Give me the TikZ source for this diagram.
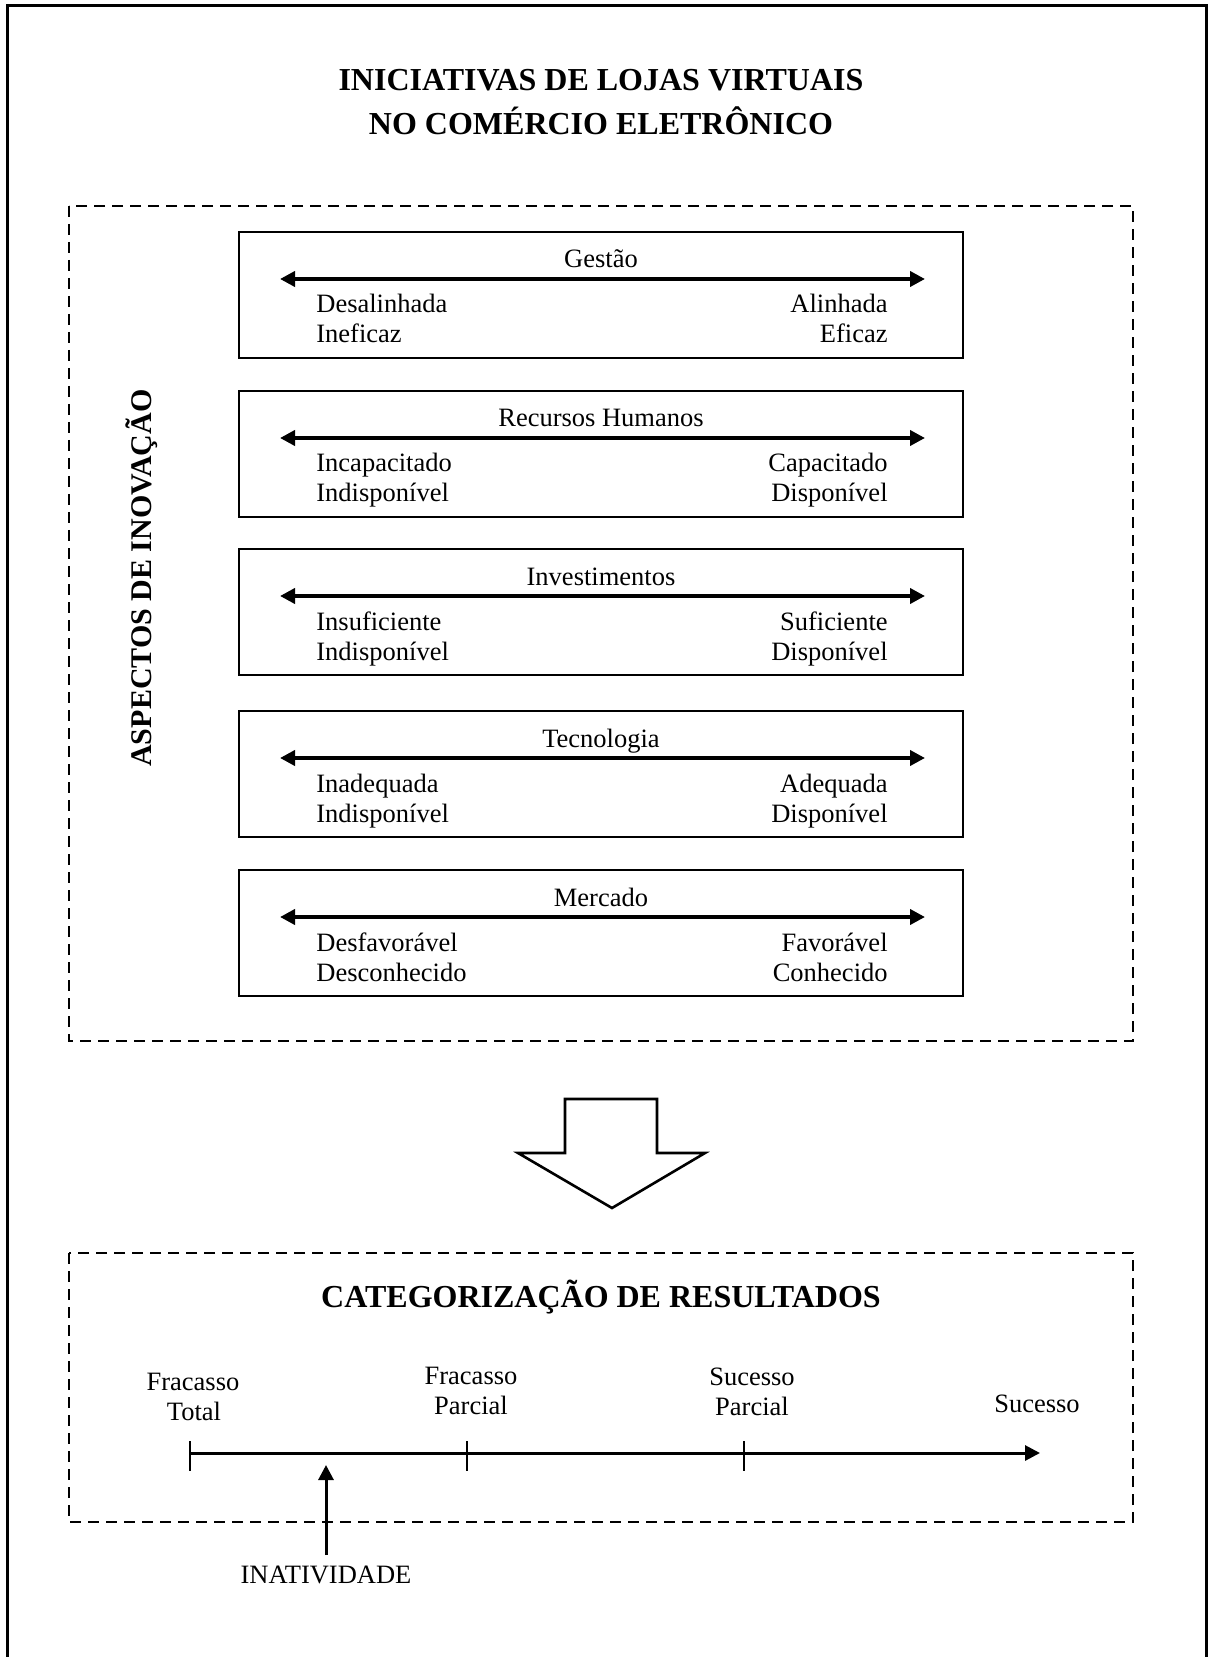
\documentclass[tikz,border=0pt]{standalone}
\usepackage{fontspec}
\setmainfont{Liberation Serif}
\usetikzlibrary{arrows.meta}
\begin{document}
\begin{tikzpicture}[x=0.5pt,y=-0.5pt,
  frame/.style={draw,line width=1.5pt},
  panel/.style={draw,line width=0.8pt},
  dashbox/.style={draw,line width=1.3pt,dash pattern=on 5.5pt off 3.5pt},
  dblarrow/.style={line width=2pt,<->,>={Triangle[length=7.5pt,width=7.5pt]}},
  onearrow/.style={line width=1.5pt,->,>={Triangle[length=7.5pt,width=7.5pt]}},
  tickmark/.style={line width=1pt},
  bigarrow/.style={draw,line width=1.3pt,line join=miter},
  lbl/.style={font=\fontsize{13.25}{15}\selectfont,inner sep=0pt},
  ttl/.style={font=\fontsize{16}{19}\selectfont\bfseries,inner sep=0pt},
  sidettl/.style={font=\fontsize{15}{18}\selectfont\bfseries,inner sep=0pt},
]
\useasboundingbox (0,0) rectangle (1208,1657);
% outer frame (open at the bottom)
\draw[frame] (7,1670) -- (7,5.5) -- (1206.5,5.5) -- (1206.5,1670);

% title
\node[ttl,anchor=base] (title1) at (601,91) {INICIATIVAS DE LOJAS VIRTUAIS};
\node[ttl,anchor=base] (title2) at (601,135) {NO COMÉRCIO ELETRÔNICO};

% aspects box
\draw[dashbox] (69,206) rectangle (1133,1041);
\node[sidettl,rotate=90,anchor=base] (aspectos) at (151,578) {ASPECTOS DE INOVAÇÃO};

\foreach \t/\n/\ti/\la/\lb/\ra/\rb in {
  232/ges/Gestão/Desalinhada/Ineficaz/Alinhada/Eficaz,
  391/rh/Recursos Humanos/Incapacitado/Indisponível/Capacitado/Disponível,
  549/inv/Investimentos/Insuficiente/Indisponível/Suficiente/Disponível,
  711/tec/Tecnologia/Inadequada/Indisponível/Adequada/Disponível,
  870/mer/Mercado/Desfavorável/Desconhecido/Favorável/Conhecido}
{
  \draw[panel] (239,\t) rectangle (963,\t+126);
  \node[lbl,anchor=base] (\n-title) at (601,\t+36) {\ti};
  \coordinate (\n-left) at (280,\t+47);
  \coordinate (\n-right) at (925,\t+47);
  \draw[dblarrow] (\n-left) -- (\n-right);
  \node[lbl,anchor=base west] (\n-l1) at (316,\t+81) {\la};
  \node[lbl,anchor=base west] (\n-l2) at (316,\t+111) {\lb};
  \node[lbl,anchor=base east] (\n-r1) at (888,\t+81) {\ra};
  \node[lbl,anchor=base east] (\n-r2) at (888,\t+111) {\rb};
}

% big hollow arrow
\draw[bigarrow] (565,1099) -- (657,1099) -- (657,1153) -- (705,1153) -- (612,1208)
  -- (518,1153) -- (565,1153) -- cycle;

% results box
\draw[dashbox] (69,1253) rectangle (1133,1522);
\node[ttl,anchor=base] (cattitle) at (601,1307) {CATEGORIZAÇÃO DE RESULTADOS};

\coordinate (p0) at (190,1453);
\coordinate (p1) at (467,1453);
\coordinate (p2) at (744,1453);
\coordinate (pend) at (1040,1453);
\draw[onearrow] (p0) -- (pend);
\foreach \p in {p0,p1,p2}{
  \draw[tickmark] (\p) ++(0,-12) -- ++(0,30);
}

\node[lbl,anchor=base] (ft1) at (193,1390) {Fracasso};
\node[lbl,anchor=base] (ft2) at (194,1420) {Total};
\node[lbl,anchor=base] (fp1) at (471,1384) {Fracasso};
\node[lbl,anchor=base] (fp2) at (471,1414) {Parcial};
\node[lbl,anchor=base] (sp1) at (752,1385) {Sucesso};
\node[lbl,anchor=base] (sp2) at (752,1415) {Parcial};
\node[lbl,anchor=base] (st) at (1037,1412) {Sucesso};

\node[lbl,anchor=base] (inat) at (326,1583) {INATIVIDADE};
\coordinate (inattip) at (326,1465);
\draw[onearrow] ([yshift=5pt]inat.north) -- (inattip);
\end{tikzpicture}
\end{document}
